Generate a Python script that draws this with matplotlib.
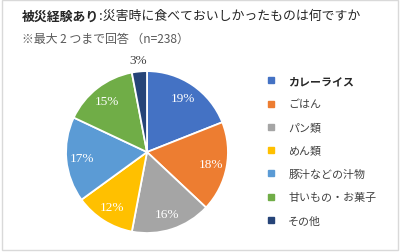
import matplotlib
matplotlib.use('Agg')
import matplotlib.pyplot as plt
import numpy as np
from matplotlib.lines import Line2D
from matplotlib.patches import Rectangle

plt.rcParams['font.family'] = ['Noto Sans CJK JP', 'DejaVu Sans']

# Data
categories = ['カレーライス', 'ごはん', 'パン類', 'めん類', '豚汁などの汁物', '甘いもの・お菓子', 'その他']
shares = [19, 18, 16, 12, 17, 15, 3]
colors = ['#4472C4', '#ED7D31', '#A5A5A5', '#FFC000', '#5B9BD5', '#70AD47', '#264478']
title_bold = '被災経験あり'
title_rest = ':災害時に食べておいしかったものは何ですか'
subtitle = '※最大 2 つまで回答 （n=238）'

fig = plt.figure(figsize=(4.0, 2.53), dpi=100)
fig.patch.set_facecolor('white')

# light frame around the chart
fig.patches.append(Rectangle((0.004, 0.006), 0.991, 0.99, transform=fig.transFigure,
                             fill=False, edgecolor='#D9D9D9', linewidth=1.0))

ax = fig.add_axes([0.165, 0.075, 0.405, 0.640])
wedges, texts = ax.pie(shares, colors=colors, startangle=90, counterclock=False,
                       wedgeprops=dict(edgecolor='white', linewidth=1.3))
ax.set_xlim(-1, 1)
ax.set_ylim(-1, 1)
ax.set_aspect('equal')

# percentage labels
for w, v in zip(wedges, shares):
    mid = np.deg2rad((w.theta1 + w.theta2) / 2)
    if v < 5:
        r, col = 1.14, '#404040'
    else:
        r, col = 0.8, 'white'
    ax.text(r * np.cos(mid), r * np.sin(mid), f'{v}%', ha='center', va='center',
            color=col, fontsize=9.5, family=['Liberation Serif', 'DejaVu Serif'])

# title
t1 = fig.text(0.055, 0.935, title_bold, fontsize=9.3, fontweight='bold', color='#262626',
              va='center')
fig.canvas.draw()
bb = t1.get_window_extent()
x2 = bb.x1 / fig.bbox.width
fig.text(x2, 0.935, title_rest, fontsize=9.3, color='#262626', va='center')
fig.text(0.055, 0.845, subtitle, fontsize=8.6, color='#595959', va='center')

# legend
handles = [Line2D([], [], marker='s', ls='', color=c, markersize=3.8) for c in colors]
leg = fig.legend(handles, categories, loc='upper left', bbox_to_anchor=(0.655, 0.712),
                 frameon=False, fontsize=7.9, handlelength=0.8, handletextpad=1.2,
                 labelspacing=1.2, borderaxespad=0)
for i, txt in enumerate(leg.get_texts()):
    txt.set_color('#404040')
    if i == 0:
        txt.set_fontweight('bold')
        txt.set_color('#262626')

fig.savefig('out.png', dpi=100)
